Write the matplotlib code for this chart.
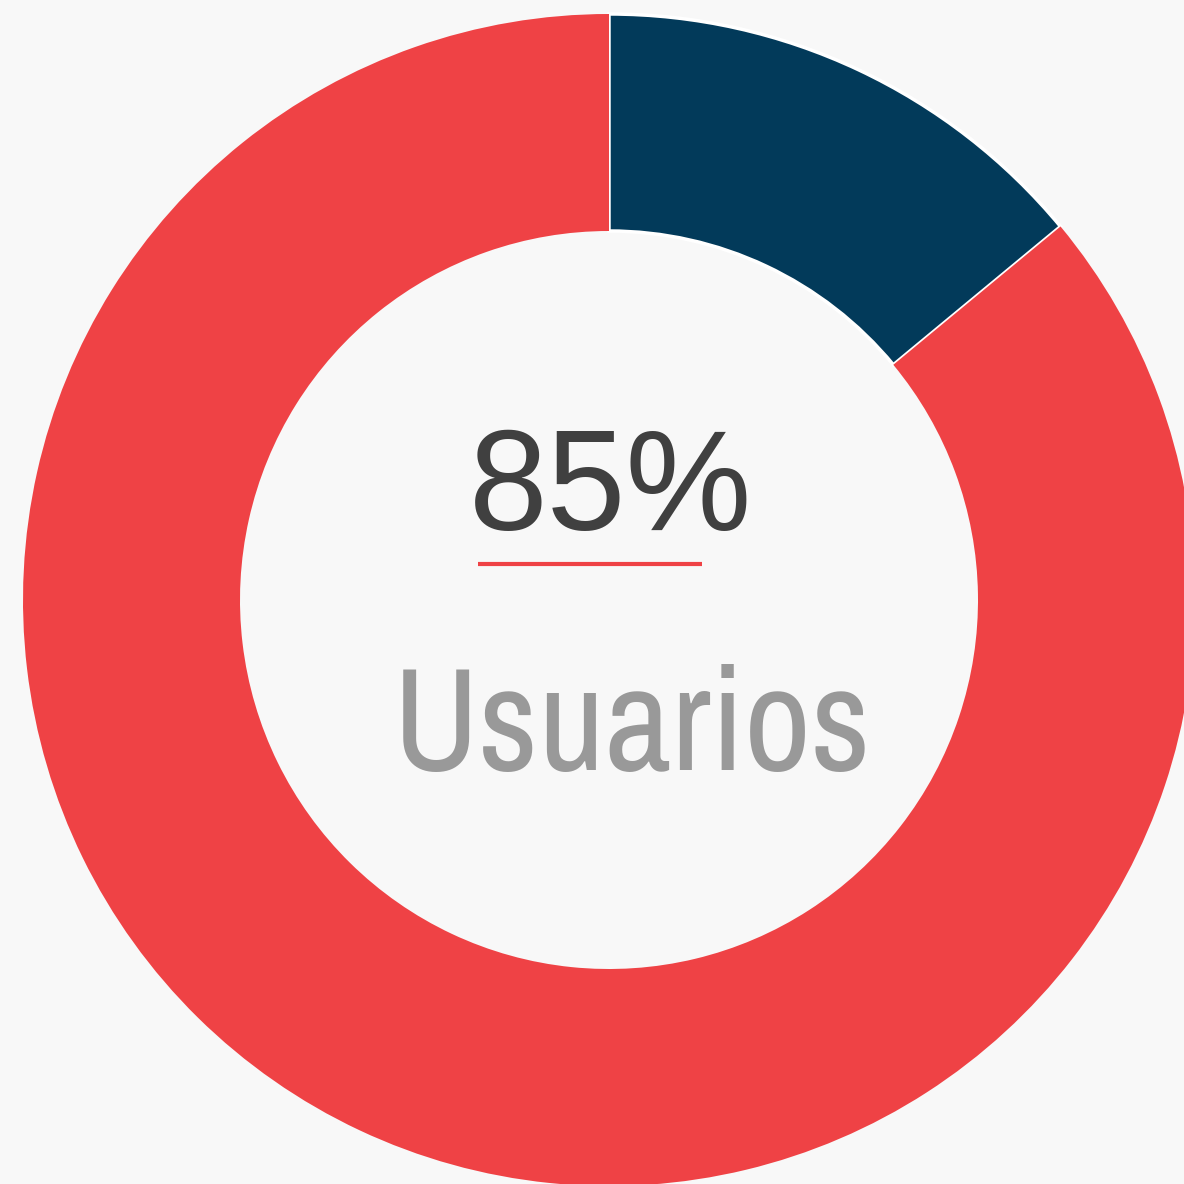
import matplotlib.pyplot as plt

labels = ['Otros', 'Usuarios']
values = [14, 86]
colors = ['#023a5a', '#ef4245']
big_text = '85%'
sub_text = 'Usuarios'

W = 1184
fig = plt.figure(figsize=(11.84, 11.84), dpi=100)
fig.patch.set_facecolor('#f8f8f8')
ax = fig.add_axes([0, 0, 1, 1])
ax.set_facecolor('#f8f8f8')

# pixel coords, y flipped
cx, cy = 609, W - 600
wedges, _ = ax.pie(values, colors=colors, startangle=90, counterclock=False,
                   center=(cx, cy), radius=586,
                   wedgeprops=dict(width=217, linewidth=0))
wedges[0].set_edgecolor('white')
wedges[0].set_linewidth(2.5)

ax.set_xlim(0, W)
ax.set_ylim(0, W)
ax.set_aspect('equal')
ax.axis('off')

ax.text(611, W - 530, big_text, ha='center', va='baseline',
        fontsize=102, color='#404040', family=['Liberation Sans', 'DejaVu Sans'])
ax.plot([478, 702], [W - 564, W - 564], color='#ef4245', lw=3, solid_capstyle='butt')
ax.text(632, W - 770, sub_text, ha='center', va='baseline',
        fontsize=105, color='#999999',
        family=['Archivo Narrow', 'Liberation Sans', 'DejaVu Sans'])

fig.savefig('out.png', dpi=100, facecolor=fig.get_facecolor())
